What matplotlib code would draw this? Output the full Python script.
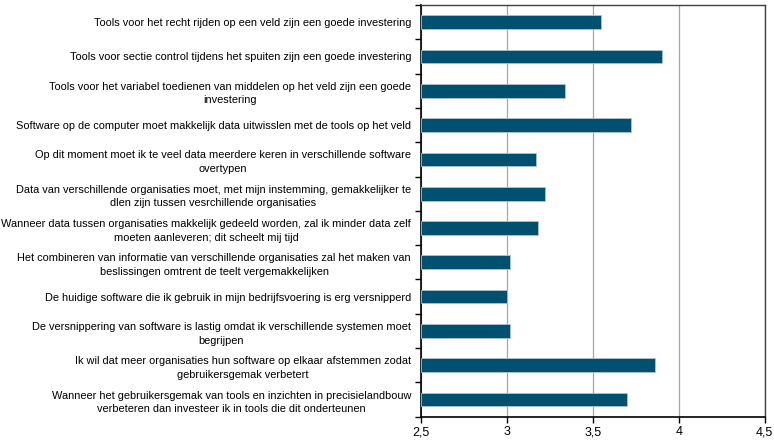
import matplotlib.pyplot as plt
import numpy as np

labels = [
    "Tools voor het recht rijden op een veld zijn een goede investering",
    "Tools voor sectie control tijdens het spuiten zijn een goede investering",
    "Tools voor het variabel toedienen van middelen op het veld zijn een goede\ninvestering",
    "Software op de computer moet makkelijk data uitwisslen met de tools op het veld",
    "Op dit moment moet ik te veel data meerdere keren in verschillende software\novertypen",
    "Data van verschillende organisaties moet, met mijn instemming, gemakkelijker te\ndlen zijn tussen vesrchillende organisaties",
    "Wanneer data tussen organisaties makkelijk gedeeld worden, zal ik minder data zelf\nmoeten aanleveren; dit scheelt mij tijd",
    "Het combineren van informatie van verschillende organisaties zal het maken van\nbeslissingen omtrent de teelt vergemakkelijken",
    "De huidige software die ik gebruik in mijn bedrijfsvoering is erg versnipperd",
    "De versnippering van software is lastig omdat ik verschillende systemen moet\nbegrijpen",
    "Ik wil dat meer organisaties hun software op elkaar afstemmen zodat\ngebruikersgemak verbetert",
    "Wanneer het gebruikersgemak van tools en inzichten in precisielandbouw\nverbeteren dan investeer ik in tools die dit onderteunen",
]
scores = [3.55, 3.90, 3.34, 3.72, 3.17, 3.22, 3.18, 3.02, 3.00, 3.02, 3.86, 3.70]
xticks = [2.5, 3, 3.5, 4, 4.5]
xtick_labels = ["2,5", "3", "3,5", "4", "4,5"]

plt.rcParams["font.family"] = "Liberation Sans"

fig = plt.figure(figsize=(7.74, 4.40), dpi=100)
ax = fig.add_axes([0.5436, 0.053, 0.4445, 0.9357])

# pick a label size so the widest line is about as wide as in the original (~393 px)
renderer = fig.canvas.get_renderer()
probe = fig.text(0, 0, labels[3], fontsize=10)
w = probe.get_window_extent(renderer).width
probe.remove()
lab_size = 10 * 393 / w

y = np.arange(len(labels))
ax.barh(y, [s - 2.5 for s in scores], left=2.5, height=0.4,
        color="#02506f", edgecolor="#a9c4d0", linewidth=0.6, zorder=3)

ax.set_xlim(2.5, 4.5)
ax.set_ylim(len(labels) - 0.5, -0.5)
ax.set_xticks(xticks)
ax.set_xticklabels(xtick_labels, fontsize=9)
ax.xaxis.grid(True, color="#a6a6a6", linewidth=0.9, zorder=0)

ax.set_yticks(y)
ax.set_yticklabels(labels, fontsize=lab_size, ha="right", multialignment="center",
                   linespacing=1.45)
ax.tick_params(axis="y", which="major", length=0, pad=7)
ax.set_yticks(np.arange(len(labels) + 1) - 0.5, minor=True)
ax.tick_params(axis="y", which="minor", length=4, width=1, direction="out")
ax.tick_params(axis="x", length=4, width=1, direction="out", pad=3)

for side in ["left", "bottom"]:
    ax.spines[side].set_color("black")
    ax.spines[side].set_linewidth(1.2)
for side in ["top", "right"]:
    ax.spines[side].set_color("#404040")
    ax.spines[side].set_linewidth(1.0)

fig.savefig("out.png", dpi=100)
